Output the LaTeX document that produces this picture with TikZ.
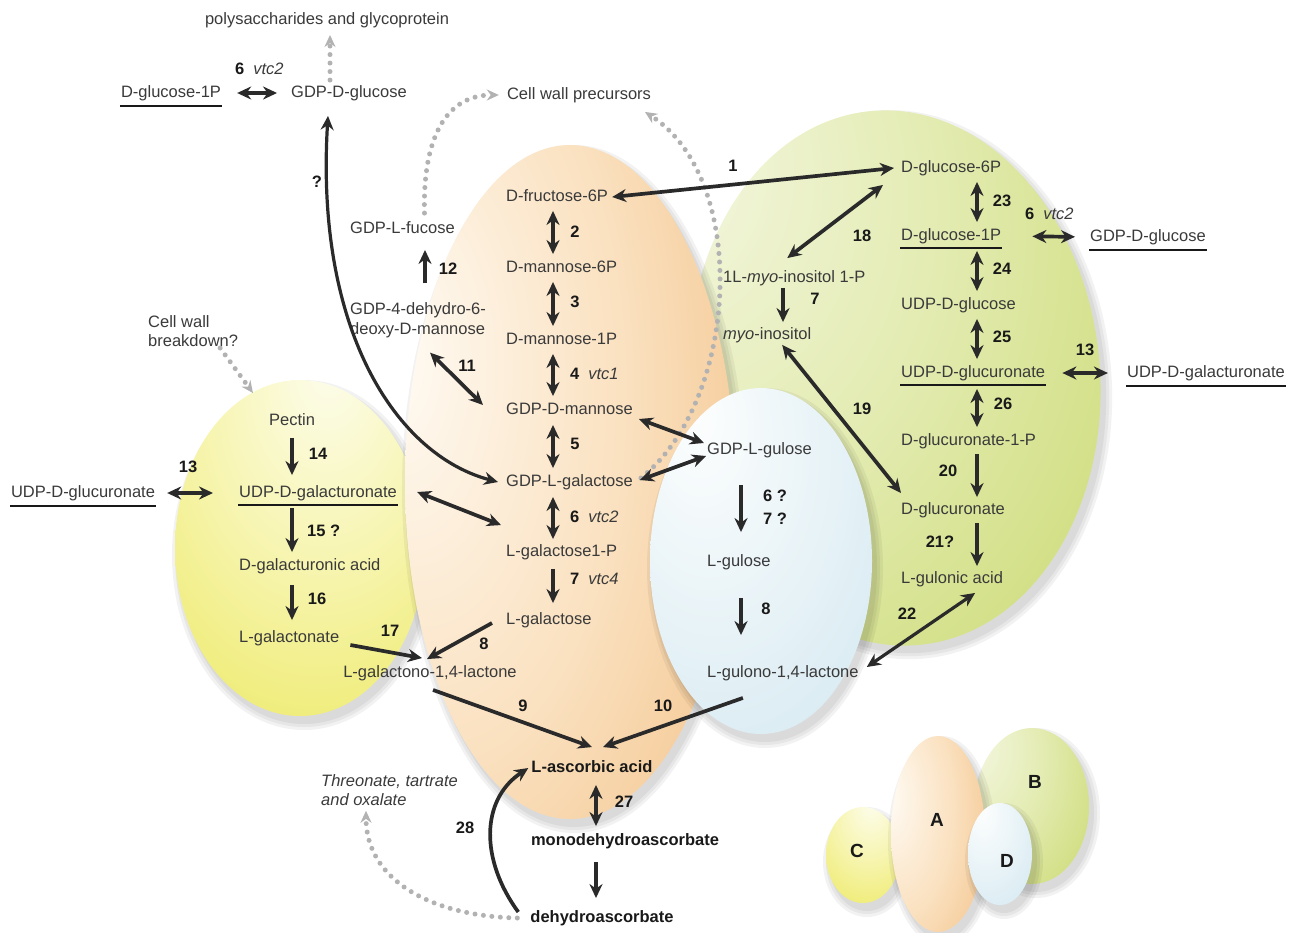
\documentclass[tikz,border=0pt]{standalone}
\usepackage{fontspec}
\setmainfont{Liberation Sans}
\usetikzlibrary{positioning}
\usetikzlibrary{arrows.meta}
\usetikzlibrary{calc}

\definecolor{txt}{RGB}{58,58,58}
\definecolor{numcol}{RGB}{25,25,25}
\definecolor{arr}{RGB}{42,42,42}
\definecolor{dotcol}{RGB}{178,178,178}
\definecolor{Ahi}{RGB}{255,252,246}
\definecolor{Amid}{RGB}{250,224,190}
\definecolor{Alo}{RGB}{239,182,116}
\definecolor{Aend}{RGB}{232,165,95}
\definecolor{Bhi}{RGB}{246,248,230}
\definecolor{Bmid}{RGB}{228,236,180}
\definecolor{Blo}{RGB}{200,216,105}
\definecolor{Bend}{RGB}{180,200,62}
\definecolor{Chi}{RGB}{253,253,238}
\definecolor{Cmid}{RGB}{246,244,170}
\definecolor{Clo}{RGB}{234,230,82}
\definecolor{Cend}{RGB}{226,220,48}
\definecolor{Dhi}{RGB}{253,254,254}
\definecolor{Dmid}{RGB}{232,243,247}
\definecolor{Dlo}{RGB}{206,229,239}
\definecolor{Dend}{RGB}{190,218,232}

\pgfdeclareradialshading{blobA}{\pgfpoint{-28bp}{10bp}}{color(0bp)=(Ahi); color(28bp)=(Amid); color(58bp)=(Alo); color(85bp)=(Aend)}
\pgfdeclareradialshading{blobB}{\pgfpoint{-30bp}{22bp}}{color(0bp)=(Bhi); color(25bp)=(Bmid); color(55bp)=(Blo); color(85bp)=(Bend)}
\pgfdeclareradialshading{blobC}{\pgfpoint{6bp}{28bp}}{color(0bp)=(Chi); color(25bp)=(Cmid); color(55bp)=(Clo); color(85bp)=(Cend)}
\pgfdeclareradialshading{blobD}{\pgfpoint{-15bp}{22bp}}{color(0bp)=(Dhi); color(25bp)=(Dmid); color(55bp)=(Dlo); color(85bp)=(Dend)}

\newcommand{\pwblob}[6]{%
  \begin{scope}[shift={(#2,#3)}, rotate=#6]
    \foreach \g in {1,4,7}
      \fill[black, opacity=0.05] (4,7) ellipse [x radius=#4pt+\g pt, y radius=#5pt+\g pt];
    \shade[shading=#1] (0,0) ellipse [x radius=#4pt, y radius=#5pt];
  \end{scope}}

\begin{document}
\begin{tikzpicture}[x=1pt, y=-1pt,
    lbl/.style={font=\fontsize{16.5}{19}\selectfont, text=txt, inner sep=1pt, text height=12pt, text depth=3.5pt},
    bld/.style={lbl, font=\fontsize{16.5}{19}\selectfont\bfseries, text=numcol},
    two/.style={font=\fontsize{16.5}{19.5}\selectfont, text=txt, inner sep=1pt, align=left},
    num/.style={font=\fontsize{16.5}{19}\selectfont\bfseries, text=numcol, inner sep=1pt, text height=12pt, text depth=3.5pt},
    big/.style={font=\fontsize{19}{22}\selectfont\bfseries, text=numcol},
    sgl/.style={draw=arr, line width=3.7pt, -{Stealth[length=14pt, width=13pt]}},
    dbl/.style={draw=arr, line width=3.7pt, {Stealth[length=14pt, width=13pt]}-{Stealth[length=14pt, width=13pt]}},
    grayarr/.style={draw=dotcol, line width=5pt, line cap=round, dash pattern=on 0pt off 8.5pt, -{Stealth[length=12pt, width=11pt]}},
    ul/.style={draw=numcol, line width=2.2pt}]
\useasboundingbox (0,0) rectangle (1295,932);

\pwblob{blobB}{895}{378}{205}{268}{5}
\pwblob{blobC}{300}{548}{125}{168}{0}
\pwblob{blobA}{570}{482}{165}{337}{0}
\pwblob{blobD}{761}{561}{111}{173}{0}

\pwblob{blobC}{863}{855}{37}{48}{0}
\pwblob{blobB}{1032}{806}{57}{78}{0}
\pwblob{blobA}{938}{834}{47}{98}{0}
\pwblob{blobD}{1000}{854}{32}{51}{0}
\node[big] (kA) at (937,820) {A};
\node[big] (kB) at (1035,782) {B};
\node[big] (kC) at (857,851) {C};
\node[big] (kD) at (1007,861) {D};

\node[lbl] (poly) at (327,20) {polysaccharides and glycoprotein};
\node[lbl] (glc1pt) at (171,93) {D-glucose-1P};
\node[lbl] (gdpglc) at (349,93) {GDP-D-glucose};
\node[lbl] (cwp) at (579,95) {Cell wall precursors};
\node[lbl, anchor=west] (fuc) at (349,229) {GDP-L-fucose};
\node[two, anchor=west] (dehy) at (349,320) {GDP-4-dehydro-6-\\deoxy-D-mannose};
\node[two, anchor=west] (cwb) at (147,331) {Cell wall\\breakdown?};

\node[lbl, anchor=west] (fru6p) at (505,197) {D-fructose-6P};
\node[lbl, anchor=west] (man6p) at (505,268) {D-mannose-6P};
\node[lbl, anchor=west] (man1p) at (505,340) {D-mannose-1P};
\node[lbl, anchor=west] (gdpman) at (505,410) {GDP-D-mannose};
\node[lbl, anchor=west] (gdpgal) at (505,482) {GDP-L-galactose};
\node[lbl, anchor=west] (gal1p) at (505,552) {L-galactose1-P};
\node[lbl, anchor=west] (gal) at (505,620) {L-galactose};
\node[lbl] (galL) at (430,673) {L-galactono-1,4-lactone};
\node[bld] (asc) at (592,768) {L-ascorbic acid};
\node[bld] (mdha) at (625,841) {monodehydroascorbate};
\node[bld] (dha) at (602,918) {dehydroascorbate};
\node[two, font=\fontsize{16.5}{19}\selectfont\itshape, anchor=west] (thre) at (320,790) {Threonate, tartrate\\and oxalate};

\node[lbl, anchor=west] (glc6p) at (900,168) {D-glucose-6P};
\node[lbl, anchor=west] (glc1p) at (900,236) {D-glucose-1P};
\node[lbl, anchor=west] (udpglc) at (900,305) {UDP-D-glucose};
\node[lbl, anchor=west] (udpglca) at (900,373) {UDP-D-glucuronate};
\node[lbl, anchor=west] (glca1p) at (900,441) {D-glucuronate-1-P};
\node[lbl, anchor=west] (glca) at (900,510) {D-glucuronate};
\node[lbl, anchor=west] (gulac) at (900,579) {L-gulonic acid};
\node[lbl] (gdpglcr) at (1148,237) {GDP-D-glucose};
\node[lbl] (udpgalar) at (1206,373) {UDP-D-galacturonate};
\node[lbl, anchor=west] (mip) at (722,278) {1L-\textit{myo}-inositol 1-P};
\node[lbl, anchor=west] (myo) at (722,335) {\textit{myo}-inositol};

\node[lbl, anchor=west] (gdpgul) at (706,450) {GDP-L-gulose};
\node[lbl, anchor=west] (gul) at (706,562) {L-gulose};
\node[lbl, anchor=west] (gulL) at (706,673) {L-gulono-1,4-lactone};

\node[lbl] (pectin) at (292,421) {Pectin};
\node[lbl, anchor=west] (udpgala) at (238,493) {UDP-D-galacturonate};
\node[lbl, anchor=west] (galua) at (238,566) {D-galacturonic acid};
\node[lbl, anchor=west] (galn) at (238,638) {L-galactonate};
\node[lbl] (udpglcal) at (83,493) {UDP-D-glucuronate};

\draw[ul] ($(glc1pt.south west)+(0,4)$) -- ($(glc1pt.south east)+(0,4)$);
\draw[ul] ($(gdpglcr.south west)+(0,4)$) -- ($(gdpglcr.south east)+(0,4)$);
\draw[ul] ($(glc1p.south west)+(0,3)$) -- ($(glc1p.south east)+(0,3)$);
\draw[ul] ($(udpglca.south west)+(0,3)$) -- ($(udpglca.south east)+(0,3)$);
\draw[ul] ($(udpgalar.south west)+(0,4)$) -- ($(udpgalar.south east)+(0,4)$);
\draw[ul] ($(udpglcal.south west)+(0,4)$) -- ($(udpglcal.south east)+(0,4)$);
\draw[ul] ($(udpgala.south west)+(0,3)$) -- ($(udpgala.south east)+(0,3)$);

\node[num] (l1) at (733,167) {1};
\node[num] (l2) at (575,233) {2};
\node[num] (l3) at (575,303) {3};
\node[num, anchor=west] (l4) at (569,375) {4\hspace{9pt}{\mdseries\itshape\color{txt}vtc1}};
\node[num] (l5) at (575,445) {5};
\node[num, anchor=west] (l6) at (569,518) {6\hspace{9pt}{\mdseries\itshape\color{txt}vtc2}};
\node[num, anchor=west] (l7) at (569,580) {7\hspace{9pt}{\mdseries\itshape\color{txt}vtc4}};
\node[num] (l8) at (484,645) {8};
\node[num] (l9) at (523,707) {9};
\node[num] (l10) at (663,707) {10};
\node[num] (l11) at (467,367) {11};
\node[num] (l12) at (448,270) {12};
\node[num] (l13l) at (188,468) {13};
\node[num] (l14) at (318,455) {14};
\node[num, anchor=west] (l15) at (306,532) {15 ?};
\node[num] (l16) at (317,600) {16};
\node[num] (l17) at (390,632) {17};
\node[num] (l18) at (862,237) {18};
\node[num] (l7i) at (815,300) {7};
\node[num] (l19) at (862,410) {19};
\node[num] (l20) at (948,472) {20};
\node[num] (l21) at (940,543) {21?};
\node[num] (l22) at (907,615) {22};
\node[num] (l23) at (1002,202) {23};
\node[num] (l24) at (1002,270) {24};
\node[num] (l25) at (1002,338) {25};
\node[num] (l26) at (1003,405) {26};
\node[num, anchor=west] (l6r) at (1024,215) {6\hspace{9pt}{\mdseries\itshape\color{txt}vtc2}};
\node[num] (l13r) at (1085,351) {13};
\node[num, anchor=west] (l6t) at (234,70) {6\hspace{9pt}{\mdseries\itshape\color{txt}vtc2}};
\node[num] (lq) at (317,183) {?};
\node[num, anchor=west] (l6g) at (762,497) {6 ?};
\node[num, anchor=west] (l7g) at (762,520) {7 ?};
\node[num] (l8g) at (766,610) {8};
\node[num] (l27) at (624,803) {27};
\node[num] (l28) at (465,829) {28};

\coordinate (cA) at (553,0);
\coordinate (cB) at (977,0);
\coordinate (cC) at (292,0);
\coordinate (cD) at (741,0);
\coordinate (cI) at (783,0);
\coordinate (cE) at (596,0);
\coordinate (cF) at (425,0);

\draw[grayarr] ($(gdpglc.north)+(-19,-4)$) -- ($(poly.south)+(3,6)$);
\draw[grayarr] ($(fuc.north)+(22,-7)$) .. controls +(-2,-83) and +(-48,0) .. ($(cwp.west)+(-7,0)$);
\draw[grayarr] ($(gdpgal.east)+(7,-4)$) .. controls +(98,-78) and +(105,68) .. ($(cwp.south)+(66,8)$);
\draw[grayarr] ($(cwb.south)+(27,0)$) -- ($(pectin.north)+(-39,-19)$);
\draw[grayarr] ($(dha.west)+(-12,0)$) .. controls +(-88,-2) and +(0,68) .. ($(thre.south west)+(46,4)$);

\draw[dbl, shorten <=15pt, shorten >=13pt] (glc1pt.east) -- (gdpglc.west);
\draw[dbl, line width=3.2pt] ($(gdpglc.south)+(-21,14)$) .. controls +(-13,214) and +(-102,-27) .. ($(gdpgal.west)+(-7,0)$);

\draw[dbl, shorten <=5pt, shorten >=5pt] (fru6p.south -| cA) -- (man6p.north -| cA);
\draw[dbl, shorten <=5pt, shorten >=5pt] (man6p.south -| cA) -- (man1p.north -| cA);
\draw[dbl, shorten <=5pt, shorten >=5pt] (man1p.south -| cA) -- (gdpman.north -| cA);
\draw[dbl, shorten <=6pt, shorten >=5pt] (gdpman.south -| cA) -- (gdpgal.north -| cA);
\draw[dbl, shorten <=6pt, shorten >=4pt] (gdpgal.south -| cA) -- (gal1p.north -| cA);
\draw[sgl, shorten <=8pt, shorten >=8pt] (gal1p.south -| cA) -- (gal.north -| cA);

\draw[dbl, shorten <=5pt, shorten >=5pt] (glc6p.south -| cB) -- (glc1p.north -| cB);
\draw[dbl, shorten <=6pt, shorten >=5pt] (glc1p.south -| cB) -- (udpglc.north -| cB);
\draw[dbl, shorten <=5pt, shorten >=5pt] (udpglc.south -| cB) -- (udpglca.north -| cB);
\draw[dbl, shorten <=7pt, shorten >=5pt] (udpglca.south -| cB) -- (glca1p.north -| cB);
\draw[sgl, shorten <=4pt, shorten >=4pt] (glca1p.south -| cB) -- (glca.north -| cB);
\draw[sgl, shorten <=4pt, shorten >=4pt] (glca.south -| cB) -- (gulac.north -| cB);
\draw[dbl, shorten <=30pt, shorten >=14pt] (glc1p.east) -- (gdpglcr.west);
\draw[dbl, shorten <=16pt, shorten >=18pt] (udpglca.east) -- (udpgalar.west);

\draw[dbl] ($(fru6p.east)+(3,0)$) -- ($(glc6p.west)+(-6,0)$);
\draw[dbl] ($(glc6p.south west)+(-17,8)$) -- ($(mip.north)+(-7,-11)$);
\draw[sgl, shorten <=1pt, shorten >=4pt] (mip.south -| cI) -- (myo.north -| cI);
\draw[dbl] ($(myo.south)+(15,1)$) -- ($(glca.west)+(1,-17)$);
\draw[dbl, line width=3.2pt] ($(gulac.south)+(23,5)$) -- ($(gulL.east)+(7,-6)$);

\draw[dbl] ($(gdpman.east)+(5,9)$) -- ($(gdpgul.west)+(-2,-7)$);
\draw[dbl] ($(gdpgal.east)+(6,-2)$) -- ($(gdpgul.west)+(0,6)$);
\draw[sgl, shorten <=26pt, shorten >=21pt] (gdpgul.south -| cD) -- (gul.north -| cD);
\draw[sgl, shorten <=27pt, shorten >=29pt] (gul.south -| cD) -- (gulL.north -| cD);

\draw[sgl, shorten <=18pt, shorten >=12pt] (dehy.north -| cF) -- (fuc.south -| cF);
\draw[dbl] ($(dehy.south)+(12,14)$) -- ($(gdpman.west)+(-22,-5)$);
\draw[dbl, shorten <=11pt, shorten >=25pt] (udpglcal.east) -- (udpgala.west);
\draw[sgl, shorten <=8pt, shorten >=9pt] (pectin.south -| cC) -- (udpgala.north -| cC);
\draw[sgl, shorten <=6pt, shorten >=5pt] (udpgala.south -| cC) -- (galua.north -| cC);
\draw[sgl, shorten <=10pt, shorten >=9pt] (galua.south -| cC) -- (galn.north -| cC);
\draw[sgl] ($(galn.east)+(10,7)$) -- ($(galL.north)+(-8,-6)$);
\draw[dbl] ($(udpgala.east)+(19,-1)$) -- ($(gal1p.north west)+(-4,-18)$);

\draw[sgl] ($(gal.west)+(-13,3)$) -- ($(galL.north)+(-3,-5)$);
\draw[sgl] ($(galL.south)+(3,8)$) -- ($(asc.north)+(0,-12)$);
\draw[sgl] ($(gulL.south)+(-40,16)$) -- ($(asc.north)+(11,-12)$);
\draw[dbl, shorten <=8pt, shorten >=6pt] (asc.south -| cE) -- (mdha.north -| cE);
\draw[sgl, shorten <=12pt, shorten >=11pt] (mdha.south -| cE) -- (dha.north -| cE);
\draw[sgl] ($(dha.west)+(-11,-6)$) .. controls +(-38,-52) and +(-48,32) .. ($(asc.west)+(-2,0)$);
\end{tikzpicture}
\end{document}
